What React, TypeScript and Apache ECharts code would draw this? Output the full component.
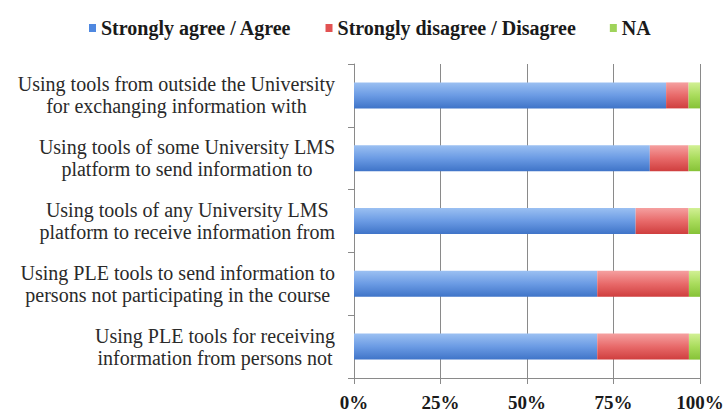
import React, { useEffect, useRef } from "react";
import * as echarts from "echarts";

const categories = [
  "Using tools from outside the University\nfor exchanging information with",
  "Using tools of some University LMS\nplatform to send information to",
  "Using tools of any University LMS\nplatform to receive information from",
  "Using PLE tools to send information to\npersons not participating in the course",
  "Using PLE tools for receiving\ninformation from persons not",
];
const seriesNames = ["Strongly agree / Agree", "Strongly disagree / Disagree", "NA"];
const agree = [90.2, 85.5, 81.4, 70.3, 70.3];
const disagree = [6.5, 11.2, 15.3, 26.5, 26.5];
const na = [3.3, 3.3, 3.3, 3.2, 3.2];
const xTicks = [0, 25, 50, 75, 100];

const FONT = "Liberation Serif";

function grad(top: string, mid: string, bottom: string) {
  return new echarts.graphic.LinearGradient(0, 0, 0, 1, [
    { offset: 0, color: top },
    { offset: 0.5, color: mid },
    { offset: 1, color: bottom },
  ]);
}

export default function App() {
  const ref = useRef<HTMLDivElement>(null);
  useEffect(() => {
    document.body.style.margin = "0";
    if (!ref.current) return;
    const chart = echarts.init(ref.current, undefined, { renderer: "svg" });
    const fills = [
      grad("#9bc0f2", "#6b9be4", "#3f74c8"),
      grad("#f5a0a0", "#e86a6a", "#cf3e3e"),
      grad("#d2f095", "#a9dc5c", "#86c237"),
    ];
    const legendColors = ["#4f88e0", "#e25252", "#9fd35a"];
    const dataSets = [agree, disagree, na];
    chart.setOption({
      animation: false,
      backgroundColor: "#ffffff",
      textStyle: { fontFamily: FONT },
      legend: {
        top: 13,
        left: 84,
        itemWidth: 7,
        itemHeight: 8,
        itemGap: 34,
        icon: "rect",
        textStyle: { fontFamily: FONT, fontSize: 20, fontWeight: "bold", color: "#1a1a1a" },
        data: seriesNames.map((n, i) => ({ name: n, itemStyle: { color: legendColors[i] } })),
      },
      grid: { left: 354, right: 27, top: 64, bottom: 36, containLabel: false },
      xAxis: {
        type: "value",
        min: 0,
        max: 100,
        interval: 25,
        axisLine: { show: true, lineStyle: { color: "#8a8a8a", width: 1 } },
        axisTick: { show: true, length: 6, lineStyle: { color: "#8a8a8a" } },
        splitLine: { show: true, lineStyle: { color: "#8a8a8a", width: 1 } },
        axisLabel: {
          margin: 15,
          fontFamily: FONT,
          fontSize: 19,
          fontWeight: "bold",
          color: "#1a1a1a",
          formatter: (v: number) => (xTicks.includes(v) ? `${v}%` : ""),
        },
      },
      yAxis: {
        type: "category",
        inverse: true,
        data: categories,
        axisLine: { show: true, lineStyle: { color: "#8a8a8a", width: 1 } },
        axisTick: { show: true, length: 6, lineStyle: { color: "#8a8a8a" } },
        splitLine: { show: false },
        axisLabel: {
          margin: 19,
          align: "right",
          formatter: (v: string) =>
            v
              .split("\n")
              .map((l) => `{c|${l}}`)
              .join("\n"),
          rich: {
            c: {
              align: "center",
              fontFamily: FONT,
              fontSize: 20,
              lineHeight: 22,
              color: "#2a2a2a",
            },
          },
        },
      },
      series: seriesNames.map((n, i) => ({
        name: n,
        type: "bar",
        stack: "total",
        barWidth: 26,
        data: dataSets[i],
        itemStyle: { color: fills[i] },
      })),
    });
    return () => chart.dispose();
  }, []);
  return <div ref={ref} style={{ width: 727, height: 414 }} />;
}
